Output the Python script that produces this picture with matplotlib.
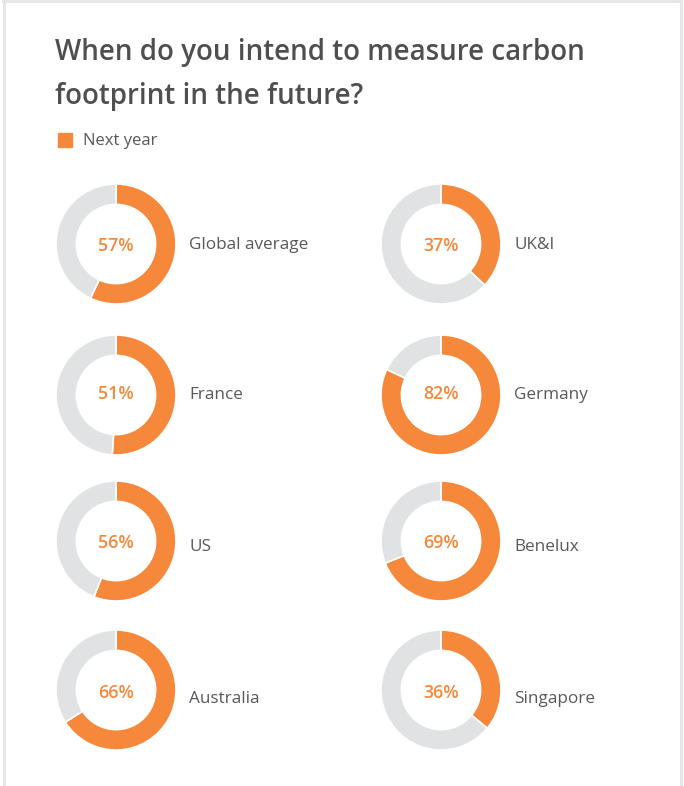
import matplotlib.pyplot as plt
from matplotlib.lines import Line2D

plt.rcParams["font.family"] = ["Open Sans", "DejaVu Sans"]

title_lines = ["When do you intend to measure carbon", "footprint in the future?"]
series_name = "Next year"
regions = ["Global average", "UK&I", "France", "Germany", "US", "Benelux", "Australia", "Singapore"]
next_year = [57, 37, 51, 82, 56, 69, 66, 36]

ORANGE = "#F5883A"
GREY = "#E1E2E4"
TEXT = "#58585B"

W, H = 684, 786
fig = plt.figure(figsize=(W / 100, H / 100), dpi=100)


def px(x, y):
    # pixel coords from top-left -> figure fraction
    return x / W, 1 - y / H


# card border (top, left, right; open at bottom)
for xs, ys in [([3, 681], [1, 1]), ([4, 4], [1, H]), ([681, 681], [1, H])]:
    fig.add_artist(Line2D([x / W for x in xs], [1 - y / H for y in ys],
                          color="#E6E6E6", lw=2.2, transform=fig.transFigure))

for line, base in zip(title_lines, [60, 104]):
    fig.text(*px(55, base), line, fontsize=20, color="#4F4F52", fontweight="semibold",
             va="baseline", ha="left")

# legend
lx, ly = px(58, 147)
fig.patches.append(plt.Rectangle((lx, ly), 14 / W, 14 / H, color=ORANGE,
                                 transform=fig.transFigure, figure=fig))
fig.text(*px(83, 141), series_name, fontsize=12, color=TEXT, va="center", ha="left")

col_x = [116, 441]
row_y = [244, 395, 541, 690]
label_y = [245, 395, 547, 699]
pct_y = [246, 394, 543, 693]
r = 60

for i, (name, val) in enumerate(zip(regions, next_year)):
    cx = col_x[i % 2]
    cy = row_y[i // 2]
    x0, y0 = px(cx - r, cy + r)
    ax = fig.add_axes([x0, y0, 2 * r / W, 2 * r / H])
    ax.pie([val, 100 - val], colors=[ORANGE, GREY], startangle=90, counterclock=False,
           wedgeprops=dict(width=0.34, edgecolor="white", linewidth=1.2))
    ax.set_xlim(-1.0, 1.0)
    ax.set_ylim(-1.0, 1.0)
    ax.set_aspect("equal")
    ax.axis("off")
    fig.text(*px(cx, pct_y[i // 2]), f"{val}%", ha="center", va="center", fontsize=12.8,
             fontweight="semibold", color=ORANGE)
    fig.text(*px(cx + 73, label_y[i // 2]), name, fontsize=12.3, color=TEXT,
             va="center", ha="left")

fig.savefig("out.png", dpi=100, facecolor="white")
